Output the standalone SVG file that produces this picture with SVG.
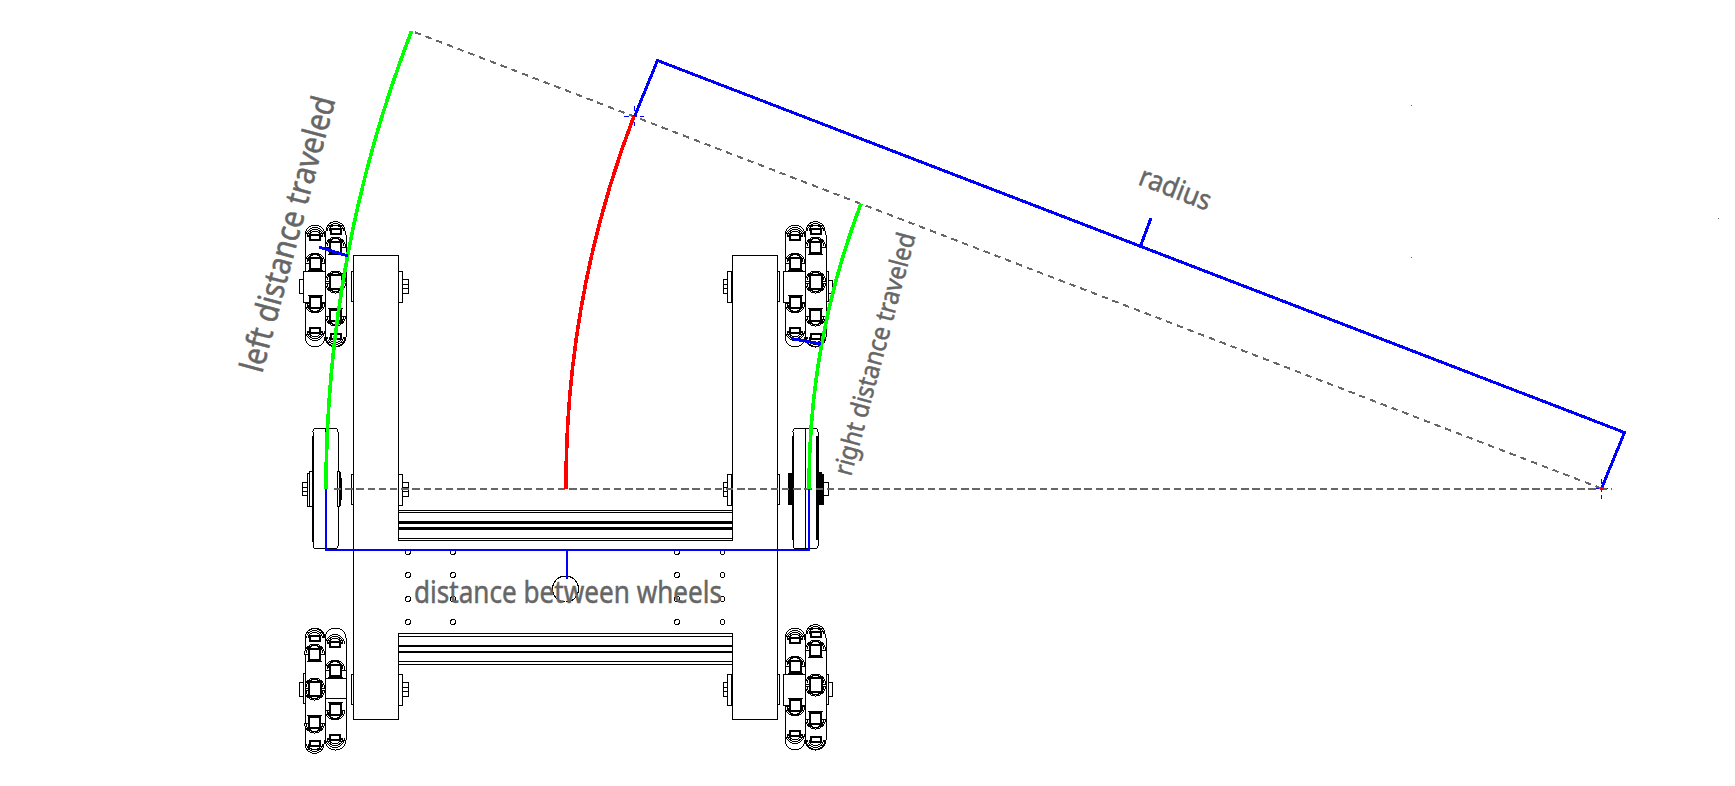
<svg xmlns="http://www.w3.org/2000/svg" width="1735" height="786" viewBox="0 0 1735 786">
<style>
.k{fill:#fff;stroke:#000;stroke-width:1;shape-rendering:crispEdges}
.n{fill:none;stroke:#000;stroke-width:1;shape-rendering:crispEdges}
.t{fill:#fff;stroke:#000;stroke-width:2;shape-rendering:crispEdges}
.f{fill:#000;stroke:none;shape-rendering:crispEdges}
.b{fill:none;stroke:#00f;stroke-width:3;shape-rendering:crispEdges}
.h{fill:none;stroke:#00f;stroke-width:2.400;shape-rendering:crispEdges}
.g{fill:none;stroke:#0f0;stroke-width:3.6;shape-rendering:crispEdges}
.r{fill:none;stroke:#f00;stroke-width:3.6;shape-rendering:crispEdges}
.d{fill:none;stroke:#666;stroke-width:2;stroke-dasharray:7.400 3.800;shape-rendering:crispEdges}
.e{fill:none;stroke:#666;stroke-width:2;stroke-dasharray:6.500 5;shape-rendering:crispEdges}
.c{fill:none;stroke:#00f;stroke-width:1;stroke-dasharray:5 3;shape-rendering:crispEdges}
text{font-family:"Noto Sans","DejaVu Sans",sans-serif;fill:#666;stroke:#666;stroke-width:.5}
</style>
<defs>
<g id="sqT">
<path class="k" d="M-10,2A10,10 0 0 1 10,2Z"/>
<path class="n" d="M-8,1A8,8 0 0 1 8,1M-6.500,0A6.500,6.500 0 0 1 6.500,0"/>
<path class="n" d="M-7.500,9.500H7.500"/>
<rect class="t" x="-5.500" y="-3" width="11" height="11"/>
</g>
<g id="sqB"><use href="#sqT" transform="scale(1,-1)"/></g>
<g id="sqM"><use href="#sqT" y="-3"/><use href="#sqB" y="3"/><rect class="t" x="-6" y="-7" width="12" height="14"/></g>
<g id="smT">
<path class="n" d="M-9.500,3A9.500,9.500 0 0 1 9.500,3M-8,3A8,7.500 0 0 1 8,3M-6.500,3A6.500,5.500 0 0 1 6.500,3"/>
<rect class="t" x="-5" y="1" width="10" height="5"/>
</g>
<g id="smB"><use href="#smT" transform="scale(1,-1)"/></g>
<g id="caps">
<rect class="k" x="-20" y="-61" width="20" height="122" rx="10" ry="10"/>
<rect class="k" x="0" y="-61" width="21" height="122" rx="10" ry="10"/>
</g>
<g id="rollers">
<use href="#smT" x="-10" y="-52"/><use href="#sqT" x="-10" y="-25"/><use href="#sqB" x="-10" y="19"/><use href="#smB" x="-10" y="48"/>
<use href="#smT" x="10.500" y="-58"/><use href="#sqT" x="10.500" y="-41"/><use href="#sqM" x="10.500" y="-4"/><use href="#sqB" x="10.500" y="32"/><use href="#smB" x="10.500" y="54"/>
</g>
<g id="wheelA">
<use href="#caps"/>
<rect class="k" x="-22" y="-15" width="22" height="31"/>
<use href="#rollers"/>
</g>
<g id="wheelB">
<use href="#caps"/>
<use href="#rollers" transform="translate(0,4) scale(-1,1)"/>
<rect class="k" x="0" y="-11" width="21" height="20"/>
</g>
<g id="plateBolts">
<rect class="k" x="351" y="-15" width="2" height="30"/>
<rect class="k" x="398" y="-15" width="4" height="31"/>
<rect class="k" x="402" y="-7" width="6" height="14"/><path class="n" d="M402,-2H408M402,2H408"/>
<rect class="k" x="727" y="-15" width="4" height="31"/>
<rect class="k" x="723" y="-7" width="4" height="14"/><path class="n" d="M723,-2H727M723,2H727"/>
<rect class="k" x="777" y="-15" width="2" height="30"/>
</g>
</defs>
<rect width="1735" height="786" fill="#fff"/>

<g id="chassis">
<path class="n" d="M353,255H398V540.500M398,633V719H353V255M732,540.500V255H777V719H732V633"/>
<use href="#plateBolts" y="286"/>
<use href="#plateBolts" y="489"/>
<use href="#plateBolts" y="689"/>
</g>

<g id="rail-top">
<path class="n" d="M398,510.500H732M398,512.500H732M398,538H732M398,540.500H732"/>
<rect class="f" x="398" y="521" width="334" height="3"/>
<rect class="f" x="398" y="527" width="334" height="3"/>
</g>
<g id="rail-bottom">
<path class="n" d="M398,633.500H732M398,636.500H732M398,661.500H732M398,664.500H732"/>
<rect class="f" x="398" y="645" width="334" height="2"/>
<rect class="f" x="398" y="651" width="334" height="2"/>
</g>
<g id="holes">
<circle class="k" cx="408" cy="552" r="2.500"/><circle class="k" cx="453" cy="552" r="2.500"/><circle class="k" cx="677" cy="552" r="2.500"/><circle class="k" cx="722.500" cy="552" r="2.500"/>
<circle class="k" cx="408" cy="575" r="2.500"/><circle class="k" cx="453" cy="575" r="2.500"/><circle class="k" cx="677" cy="575" r="2.500"/><circle class="k" cx="722.500" cy="575" r="2.500"/>
<circle class="k" cx="408" cy="599" r="2.500"/><circle class="k" cx="453" cy="599" r="2.500"/><circle class="k" cx="677" cy="599" r="2.500"/><circle class="k" cx="722.500" cy="599" r="2.500"/>
<circle class="k" cx="408" cy="622" r="2.500"/><circle class="k" cx="453" cy="622" r="2.500"/><circle class="k" cx="677" cy="622" r="2.500"/><circle class="k" cx="722.500" cy="622" r="2.500"/>
<circle class="n" cx="565.500" cy="589" r="13"/>
</g>

<g id="wheel-top-left"><use href="#wheelA" x="325" y="286"/><rect class="k" x="299" y="279" width="4" height="14"/></g>
<g id="wheel-top-right"><use href="#wheelA" x="805" y="286"/><rect class="k" x="826" y="271" width="2" height="30"/><rect class="k" x="828" y="280" width="4" height="13"/></g>
<g id="wheel-bottom-left"><use href="#wheelB" x="325" y="689"/><rect class="k" x="303" y="673" width="2" height="30"/><rect class="k" x="299" y="682" width="4" height="14"/></g>
<g id="wheel-bottom-right"><use href="#wheelA" x="805" y="689"/><rect class="k" x="826" y="674" width="2" height="30"/><rect class="k" x="828" y="682" width="4" height="14"/></g>

<g id="wheel-mid-left">
<rect class="k" x="313" y="428.500" width="25" height="120" rx="3"/>
<path class="n" d="M325.500,428.500V548.500M312,436V542M338.500,436V540"/>
<rect class="k" x="302.500" y="482" width="5" height="13"/><path class="n" d="M302.500,487H307.500M302.500,491H307.500"/>
<rect class="k" x="307.500" y="473" width="2" height="33"/><rect class="k" x="309.500" y="471" width="3" height="35"/>
<rect class="f" x="339" y="472" width="2" height="34"/><rect class="f" x="341" y="478" width="1" height="22"/><rect class="k" x="337" y="471" width="2" height="35"/>
</g>
<g id="wheel-mid-right">
<rect class="k" x="793" y="428.500" width="25" height="120" rx="3"/>
<path class="n" d="M805.500,428.500V548.500"/>
<rect class="f" x="792" y="436" width="2" height="104"/>
<rect class="f" x="816" y="436" width="3" height="104"/>
<rect class="f" x="788" y="473" width="5" height="32"/>
<rect class="f" x="818" y="472" width="4" height="33"/>
<rect class="k" x="823" y="482" width="5" height="13"/><rect class="k" x="822" y="474" width="1" height="30"/>
</g>

<g id="connectors">
<path class="c" d="M1595,488.500H1612M1601,479V499M624,116H644M634.500,106V126"/>
<path class="d" d="M334,489H1612"/>
<path class="e" d="M1601.500,488.500L411.600,31"/>
<path class="g" d="M326,489A1275.500,1275.500 0 0 1 411.600,31"/>
<path class="g" d="M809,489A792.500,792.500 0 0 1 861,203.600"/>
<path class="r" d="M566,489A1035.500,1035.500 0 0 1 634,116"/>
<path class="h" d="M326,489V550H809V489"/>
<path class="h" d="M567,550V579"/>
<path class="b" d="M1601.500,488.500L1624.500,432.500L657.500,60.500L634.500,116.500"/>
<path class="b" d="M1140.500,246L1151,218"/>
<path class="b" d="M319,247L348,256"/>
<path class="b" d="M791.500,338.500L821,344"/>
<rect x="1600" y="487" width="4" height="3" fill="#f00"/>
<rect x="1411" y="105" width="1" height="1" fill="#666"/><rect x="1411" y="257" width="1" height="1" fill="#666"/><rect x="1718" y="218" width="1" height="1" fill="#666"/>
</g>

<g id="labels">
<text x="414" y="603" font-size="30" textLength="308" lengthAdjust="spacingAndGlyphs">distance between wheels</text>
<text transform="translate(262,374) rotate(-75)" font-size="33" textLength="284" lengthAdjust="spacingAndGlyphs">left distance traveled</text>
<text transform="translate(851,477) rotate(-75)" font-size="26" textLength="250" lengthAdjust="spacingAndGlyphs">right distance traveled</text>
<text transform="translate(1137,184) rotate(21)" font-size="28" textLength="75" lengthAdjust="spacingAndGlyphs">radius</text>
</g>
</svg>
